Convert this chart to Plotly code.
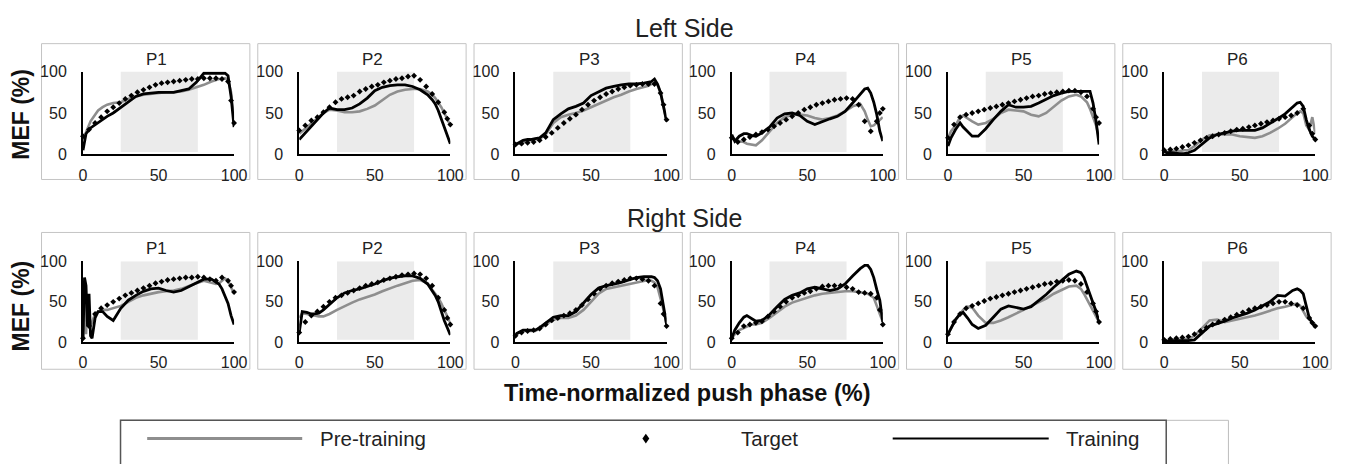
import plotly.graph_objects as go

# ---------------- data ----------------
PANELS = ["P1", "P2", "P3", "P4", "P5", "P6"]
SIDES = ["Left Side", "Right Side"]
TICKS = [0, 50, 100]
SHADE = [25, 76]

X_LINE = [0, 2, 5, 8, 10, 13, 16, 20, 25, 30, 35, 40, 45, 50, 55, 60, 65, 70, 75, 80, 85, 88, 90, 92, 94, 96, 98, 100]
X_LINE_R1 = [0, 1, 2, 3, 4, 5, 6, 8, 10, 13, 16, 20, 25, 30, 35, 40, 45, 50, 55, 60, 65, 70, 75, 80, 85, 88, 90, 92, 94, 96, 98, 100]
X_TGT = [0, 4, 8, 12, 16, 20, 24, 28, 32, 36, 40, 44, 48, 52, 56, 60, 64, 68, 72, 76, 80, 84, 88, 92, 96, 98, 100]

# Left side
L1_PRE = [18, 26, 40, 48, 53, 57, 60, 62, 63, 67, 70, 72, 73, 74, 75, 75, 76, 78, 81, 84, 88, 90, 91, 91, 92, 90, 75, 40]
L1_TRN = [5, 25, 32, 36, 38, 42, 46, 50, 57, 63, 70, 73, 74, 75, 75, 75, 77, 79, 87, 98, 98, 98, 98, 98, 98, 95, 70, 33]
L1_TGT = [22, 30, 38, 45, 52, 57, 62, 67, 71, 75, 78, 81, 84, 86, 87, 88, 89, 90, 91, 91, 92, 92, 92, 91, 88, 65, 38]

L2_PRE = [25, 28, 33, 37, 40, 45, 50, 54, 53, 51, 51, 52, 55, 59, 65, 72, 76, 78, 79, 79, 76, 72, 68, 63, 57, 50, 42, 35]
L2_TRN = [18, 22, 29, 35, 39, 44, 50, 56, 54, 54, 56, 61, 68, 77, 81, 83, 84, 84, 82, 78, 72, 66, 61, 53, 43, 33, 22, 13]
L2_TGT = [29, 35, 41, 45, 51, 57, 63, 67, 69, 71, 76, 79, 82, 84, 87, 89, 91, 92, 94, 95, 90, 82, 73, 63, 51, 43, 36]

L3_PRE = [12, 13, 15, 16, 17, 18, 19, 24, 38, 45, 48, 50, 53, 57, 61, 65, 69, 72, 76, 79, 81, 83, 85, 86, 84, 74, 58, 40]
L3_TRN = [12, 14, 17, 18, 18, 19, 20, 26, 42, 49, 55, 58, 62, 71, 76, 80, 82, 84, 85, 85, 86, 87, 88, 91, 85, 75, 58, 40]
L3_TGT = [12, 13, 14, 15, 17, 21, 26, 32, 38, 43, 48, 54, 60, 65, 69, 73, 76, 79, 81, 83, 84, 85, 85, 85, 74, 60, 42]

L4_PRE = [20, 17, 16, 15, 13, 12, 11, 17, 28, 38, 45, 48, 48, 47, 44, 42, 44, 47, 52, 58, 61, 52, 42, 34, 35, 38, 42, 45]
L4_TRN = [24, 16, 22, 25, 25, 23, 22, 26, 33, 44, 49, 50, 47, 40, 36, 40, 43, 46, 52, 62, 73, 79, 80, 74, 63, 48, 28, 16]
L4_TGT = [20, 15, 18, 21, 24, 27, 30, 34, 38, 42, 46, 50, 54, 57, 60, 62, 64, 66, 67, 68, 67, 60, 40, 28, 40, 50, 55]

L5_PRE = [20, 28, 35, 45, 47, 43, 40, 36, 38, 43, 50, 54, 53, 52, 48, 46, 50, 58, 65, 70, 72, 70, 67, 63, 55, 45, 35, 20]
L5_TRN = [10, 20, 30, 38, 33, 27, 22, 22, 31, 42, 52, 60, 57, 57, 58, 62, 67, 71, 74, 76, 76, 76, 76, 76, 76, 62, 40, 12]
L5_TGT = [20, 36, 45, 48, 50, 52, 54, 56, 58, 60, 62, 64, 66, 68, 70, 71, 73, 74, 75, 76, 77, 77, 75, 70, 55, 45, 38]

L6_PRE = [3, 3, 4, 4, 4, 5, 5, 10, 18, 23, 24, 24, 24, 22, 21, 20, 22, 26, 31, 37, 45, 50, 52, 50, 35, 30, 45, 25]
L6_TRN = [3, 2, 2, 1, 1, 1, 2, 5, 13, 20, 24, 26, 28, 29, 29, 29, 32, 37, 43, 49, 57, 62, 63, 58, 42, 30, 22, 18]
L6_TGT = [5, 6, 7, 9, 11, 14, 17, 20, 22, 24, 26, 28, 30, 31, 33, 35, 37, 39, 41, 43, 45, 47, 50, 55, 35, 25, 18]

# Right side
R1_PRE = [5, 70, 10, 50, 25, 20, 25, 35, 38, 40, 40, 42, 45, 50, 55, 58, 60, 62, 63, 64, 66, 70, 73, 76, 74, 72, 73, 76, 79, 76, 68, 60]
R1_TRN = [5, 80, 70, 20, 60, 8, 5, 30, 38, 38, 32, 27, 42, 52, 58, 63, 66, 67, 64, 62, 64, 69, 74, 78, 78, 75, 72, 66, 57, 48, 33, 22]
R1_TGT = [5, 20, 35, 42, 46, 50, 54, 58, 61, 64, 67, 70, 73, 75, 77, 78, 79, 80, 80, 81, 80, 78, 76, 80, 76, 70, 62]

R2_PRE = [30, 36, 35, 34, 33, 32, 32, 35, 40, 45, 49, 53, 56, 59, 63, 67, 70, 73, 76, 77, 73, 65, 60, 55, 48, 40, 31, 24]
R2_TRN = [12, 38, 37, 35, 35, 36, 40, 47, 55, 61, 64, 66, 69, 72, 76, 79, 81, 82, 82, 79, 72, 64, 58, 50, 38, 27, 18, 9]
R2_TGT = [12, 25, 33, 38, 44, 50, 55, 58, 61, 64, 67, 70, 72, 74, 77, 79, 81, 83, 84, 85, 84, 79, 70, 55, 40, 30, 22]

R3_PRE = [10, 12, 14, 14, 14, 14, 17, 22, 28, 30, 30, 33, 40, 50, 60, 66, 68, 70, 72, 74, 76, 77, 76, 74, 68, 55, 40, 22]
R3_TRN = [10, 12, 15, 15, 15, 15, 18, 24, 31, 33, 33, 38, 48, 59, 67, 70, 72, 74, 77, 80, 81, 81, 81, 80, 76, 66, 45, 22]
R3_TGT = [8, 12, 14, 15, 17, 22, 27, 30, 33, 36, 40, 46, 53, 60, 66, 70, 73, 75, 77, 79, 79, 78, 76, 70, 48, 35, 20]

R4_PRE = [5, 10, 15, 18, 20, 22, 22, 24, 30, 37, 44, 49, 52, 55, 58, 60, 61, 62, 63, 63, 62, 61, 60, 58, 55, 45, 35, 25]
R4_TRN = [5, 15, 24, 31, 33, 30, 26, 27, 34, 44, 53, 58, 61, 66, 68, 66, 64, 66, 72, 82, 91, 95, 95, 90, 80, 65, 52, 25]
R4_TGT = [5, 12, 20, 22, 24, 26, 32, 38, 44, 50, 55, 58, 61, 63, 66, 69, 70, 70, 70, 68, 66, 62, 61, 60, 55, 40, 22]

R5_PRE = [10, 18, 28, 35, 40, 44, 43, 33, 24, 24, 27, 31, 35, 40, 45, 49, 54, 60, 64, 69, 70, 66, 60, 53, 46, 39, 32, 25]
R5_TRN = [10, 18, 28, 35, 37, 30, 22, 17, 21, 31, 41, 45, 43, 41, 44, 51, 59, 68, 76, 84, 88, 86, 80, 70, 60, 48, 38, 25]
R5_TGT = [10, 25, 35, 42, 45, 48, 51, 54, 56, 58, 60, 62, 64, 66, 68, 70, 72, 73, 75, 76, 77, 76, 72, 62, 48, 38, 25]

R6_PRE = [2, 2, 3, 3, 3, 4, 4, 8, 18, 27, 28, 25, 27, 29, 31, 33, 36, 39, 42, 44, 46, 48, 45, 38, 32, 28, 25, 20]
R6_TRN = [1, 1, 2, 2, 2, 2, 2, 3, 12, 20, 23, 26, 30, 33, 36, 40, 45, 50, 58, 57, 64, 66, 64, 60, 45, 30, 24, 18]
R6_TGT = [3, 4, 5, 6, 7, 10, 14, 18, 22, 25, 28, 31, 34, 37, 40, 42, 44, 46, 48, 50, 50, 48, 46, 42, 30, 24, 20]

LEGEND_NAMES = ["Pre-training", "Target", "Training"]

ROWS = [
    [(X_LINE, L1_PRE, L1_TRN, L1_TGT), (X_LINE, L2_PRE, L2_TRN, L2_TGT), (X_LINE, L3_PRE, L3_TRN, L3_TGT),
     (X_LINE, L4_PRE, L4_TRN, L4_TGT), (X_LINE, L5_PRE, L5_TRN, L5_TGT), (X_LINE, L6_PRE, L6_TRN, L6_TGT)],
    [(X_LINE_R1, R1_PRE, R1_TRN, R1_TGT), (X_LINE, R2_PRE, R2_TRN, R2_TGT), (X_LINE, R3_PRE, R3_TRN, R3_TGT),
     (X_LINE, R4_PRE, R4_TRN, R4_TGT), (X_LINE, R5_PRE, R5_TRN, R5_TGT), (X_LINE, R6_PRE, R6_TRN, R6_TGT)],
]

# ---------------- layout helpers ----------------
W, H = 1354, 464
FONT = "Liberation Sans, Arial, sans-serif"
GRAY = "#8e8e8e"


def px(x):
    return x / W


def py(y):
    return 1 - y / H


ROW_Y = [(152, 66), (347, 263)]      # pixel y of value 0 and value 100
ROW_BOX = [(37, 178), (233, 375)]
ROW_TITLE = [53, 250]
SIDE_Y = [21, 218]
MEF_Y = [110, 309]

fig = go.Figure()
layout = dict(
    width=W, height=H, margin=dict(l=0, r=0, t=0, b=0),
    paper_bgcolor="white", plot_bgcolor="rgba(0,0,0,0)", showlegend=False,
    font=dict(family=FONT, color="#222"),
)
shapes = []
annotations = []

n = 0
for r, row in enumerate(ROWS):
    for k, (xl, pre, trn, tgt) in enumerate(row):
        n += 1
        xa = "x" if n == 1 else f"x{n}"
        ya = "y" if n == 1 else f"y{n}"
        box_l = 38 + 219 * k
        x0p, x1p = box_l + 42, box_l + 195
        y0p, y1p = ROW_Y[r]
        key_x = "xaxis" if n == 1 else f"xaxis{n}"
        key_y = "yaxis" if n == 1 else f"yaxis{n}"
        layout[key_x] = dict(
            domain=[px(x0p), px(x1p)], anchor=ya, range=[0, 100],
            tickvals=TICKS, ticks="outside", ticklen=5, tickcolor="rgba(0,0,0,0)",
            showline=True, linecolor="black", linewidth=2, showgrid=False, zeroline=False,
            tickfont=dict(size=16, family=FONT, color="#222"), fixedrange=True,
        )
        layout[key_y] = dict(
            domain=[py(y0p), py(y1p)], anchor=xa, range=[0, 100],
            tickvals=TICKS, ticks="outside", ticklen=11, tickcolor="rgba(0,0,0,0)",
            showline=True, linecolor="black", linewidth=2, showgrid=False, zeroline=False,
            tickfont=dict(size=16, family=FONT, color="#222"), fixedrange=True,
        )
        # shaded band
        shapes.append(dict(type="rect", xref=xa, yref=ya, x0=SHADE[0], x1=SHADE[1], y0=3, y1=100,
                           fillcolor="#ebebeb", line=dict(width=0), layer="below"))
        # panel frame
        shapes.append(dict(type="rect", xref="paper", yref="paper",
                           x0=px(box_l), x1=px(box_l + 211), y0=py(ROW_BOX[r][1]), y1=py(ROW_BOX[r][0]),
                           line=dict(color="#c4c4c4", width=1), fillcolor="rgba(0,0,0,0)", layer="below"))
        annotations.append(dict(text=PANELS[k], xref="paper", yref="paper", x=px((x0p + x1p) / 2 - 2),
                                y=py(ROW_TITLE[r]), showarrow=False, xanchor="center", yanchor="middle",
                                font=dict(size=17, family=FONT, color="#222")))
        fig.add_trace(go.Scatter(x=xl, y=pre, mode="lines", line=dict(color=GRAY, width=2.6),
                                 xaxis=xa, yaxis=ya, cliponaxis=False, name=LEGEND_NAMES[0]))
        fig.add_trace(go.Scatter(x=xl, y=trn, mode="lines", line=dict(color="black", width=2.8),
                                 xaxis=xa, yaxis=ya, cliponaxis=False, name=LEGEND_NAMES[2]))
        fig.add_trace(go.Scatter(x=X_TGT, y=tgt, mode="markers",
                                 marker=dict(symbol="diamond", size=4.5, color="black"),
                                 xaxis=xa, yaxis=ya, cliponaxis=False, name=LEGEND_NAMES[1]))

    annotations.append(dict(text=SIDES[r], xref="paper", yref="paper", x=px(689), y=py(SIDE_Y[r]),
                            showarrow=False, xanchor="center", yanchor="middle",
                            font=dict(size=25, family=FONT, color="#222")))
    annotations.append(dict(text="<b>MEF (%)</b>", xref="paper", yref="paper", x=px(17), y=py(MEF_Y[r]),
                            showarrow=False, xanchor="center", yanchor="middle", textangle=-90,
                            font=dict(size=23, family=FONT, color="#111")))

annotations.append(dict(text="<b>Time-normalized push phase (%)</b>", xref="paper", yref="paper",
                        x=px(692), y=py(400), showarrow=False, xanchor="center", yanchor="middle",
                        font=dict(size=23.5, family=FONT, color="#111")))

# ---------------- legend box ----------------
LEG_Y = 447
shapes.append(dict(type="rect", xref="paper", yref="paper", x0=px(118), x1=px(1240), y0=py(480), y1=py(428),
                   line=dict(color="#bdbdbd", width=1), fillcolor="rgba(0,0,0,0)"))
shapes.append(dict(type="rect", xref="paper", yref="paper", x0=px(118), x1=px(1177), y0=py(480), y1=py(428),
                   line=dict(color="#555", width=1.5), fillcolor="rgba(0,0,0,0)"))
shapes.append(dict(type="line", xref="paper", yref="paper", x0=px(145), x1=px(302), y0=py(LEG_Y), y1=py(LEG_Y),
                   line=dict(color=GRAY, width=3)))
shapes.append(dict(type="line", xref="paper", yref="paper", x0=px(900), x1=px(1058), y0=py(LEG_Y), y1=py(LEG_Y),
                   line=dict(color="black", width=2)))
dx, dy = 3.5, 5
shapes.append(dict(type="path", xref="paper", yref="paper",
                   path=f"M {px(650)},{py(LEG_Y - dy)} L {px(650 + dx)},{py(LEG_Y)} L {px(650)},{py(LEG_Y + dy)} L {px(650 - dx)},{py(LEG_Y)} Z",
                   fillcolor="black", line=dict(width=0)))
for txt, xl in [(LEGEND_NAMES[0], 318), (LEGEND_NAMES[1], 744), (LEGEND_NAMES[2], 1073)]:
    annotations.append(dict(text=txt, xref="paper", yref="paper", x=px(xl), y=py(LEG_Y), showarrow=False,
                            xanchor="left", yanchor="middle", font=dict(size=20.5, family=FONT, color="#222")))

layout["shapes"] = shapes
layout["annotations"] = annotations
fig.update_layout(**layout)
fig.write_html(
    "out.html",
    config={"displayModeBar": False},
    post_script="document.body.style.margin='0';document.body.style.padding='0';"
                "document.body.style.overflow='hidden';",
)
